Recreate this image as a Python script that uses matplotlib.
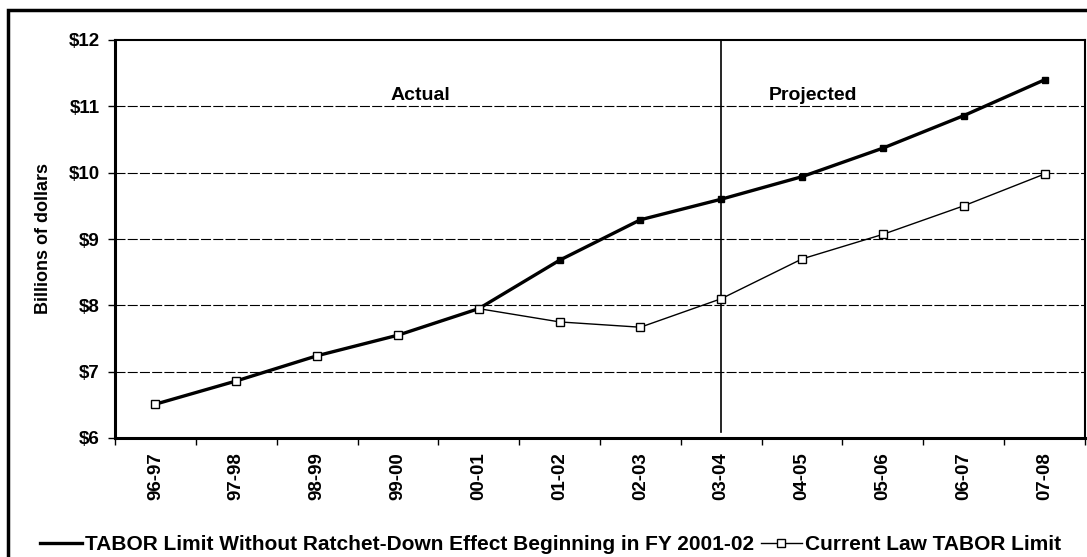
import matplotlib
matplotlib.use("Agg")
import matplotlib.pyplot as plt
from matplotlib.patches import Rectangle
from matplotlib.lines import Line2D

plt.rcParams['font.family'] = ['Liberation Sans', 'DejaVu Sans']
plt.rcParams['font.weight'] = 'bold'
plt.rcParams['axes.labelweight'] = 'bold'

years = ['96-97', '97-98', '98-99', '99-00', '00-01', '01-02',
         '02-03', '03-04', '04-05', '05-06', '06-07', '07-08']
no_ratchet = [6.51, 6.86, 7.24, 7.55, 7.95, 8.68, 9.29, 9.60, 9.94, 10.37, 10.86, 11.40]
current_law = [6.51, 6.86, 7.24, 7.55, 7.95, 7.75, 7.67, 8.10, 8.70, 9.07, 9.50, 9.98]
yticks = [6, 7, 8, 9, 10, 11, 12]

W, H = 1087, 557
fig = plt.figure(figsize=(W / 100, H / 100), dpi=100)
ax = fig.add_axes([115 / W, 1 - 438 / H, 970 / W, 398 / H])

x = list(range(len(years)))

# grid lines
for v in yticks[1:-1]:
    ax.axhline(v, color='black', lw=0.8, dashes=(9, 2), zorder=1)

ax.plot(x, no_ratchet, color='black', lw=2.4, marker='s', markersize=4,
        markerfacecolor='black', zorder=3)
ax.plot(x, current_law, color='black', lw=1.0, marker='s', markersize=6,
        markerfacecolor='white', markeredgewidth=1.0, zorder=4)

# actual / projected divider
ax.axvline(7, ymin=0.015, ymax=1, color='black', lw=1.2, zorder=2)
ax.text(3.28, 11.16, 'Actual', ha='center', va='center', fontsize=14)
ax.text(8.14, 11.16, 'Projected', ha='center', va='center', fontsize=14)

ax.set_xlim(-0.5, 11.5)
ax.set_ylim(6, 12)
ax.set_yticks(yticks)
ax.set_yticklabels(['$%d' % v for v in yticks], fontsize=13.5)
ax.set_xticks(x)
ax.set_xticklabels(years, rotation=90, fontsize=13.5)
ax.set_xticks([i + 0.5 for i in range(-1, 12)], minor=True)
ax.tick_params(axis='x', which='major', length=0, pad=10)
ax.tick_params(axis='x', which='minor', length=5, width=1)
ax.tick_params(axis='y', length=5, width=1, pad=6)
ax.set_ylabel('Billions of dollars', fontsize=13, labelpad=12)

for side in ['left', 'bottom']:
    ax.spines[side].set_linewidth(2.2)
for side in ['top', 'right']:
    ax.spines[side].set_linewidth(1.5)

handles = [Line2D([], [], color='black', lw=2.4),
           Line2D([], [], color='black', lw=1.0, marker='s', markersize=6,
                  markerfacecolor='white')]
labels = ['TABOR Limit Without Ratchet-Down Effect Beginning in FY 2001-02',
          'Current Law TABOR Limit']
ax.legend(handles, labels, loc='center', bbox_to_anchor=(551 / W, 1 - 545 / H),
          bbox_transform=fig.transFigure, ncol=2, frameon=False,
          fontsize=15, handlelength=2.0, handletextpad=0.15,
          columnspacing=0.3, borderpad=0)

# outer frame (cut off at right and bottom)
fig.patches.append(Rectangle((8 / W, -0.1), 1.2, 1.1 - 10 / H,
                             transform=fig.transFigure, fill=False,
                             edgecolor='black', lw=2.5))

plt.savefig('out.png', dpi=100)
